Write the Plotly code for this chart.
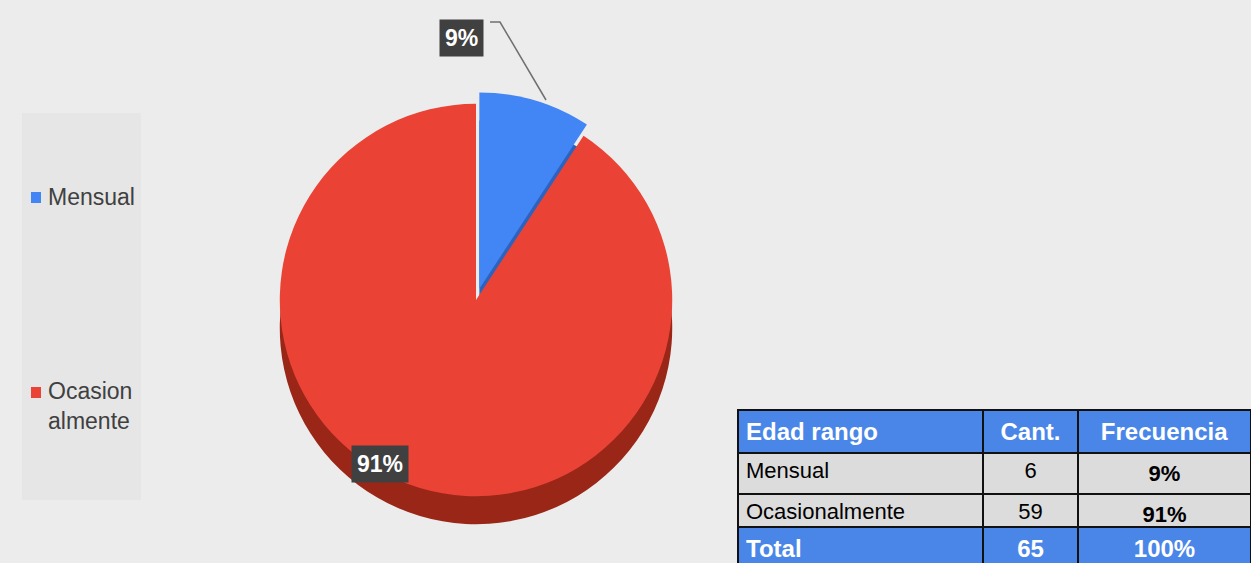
import plotly.graph_objects as go

categories = ["Mensual", "Ocasionalmente"]
legend_labels = ["Mensual", "Ocasion<br>almente"]
counts = [6, 59]
pct_labels = ["9%", "91%"]
total_label = "Total"
total_count = 65
total_pct = "100%"
header = ["Edad rango", "Cant.", "Frecuencia"]

W, H = 1251, 563
top_colors = ["#4285f4", "#ea4335"]
side_colors = ["#2d62bf", "#9a2618"]
FONT = "Liberation Sans, Arial"


def px(x0, y0, x1, y1):
    return dict(x=[x0 / W, x1 / W], y=[max(0, (H - y1) / H), min(1, (H - y0) / H)])


fig = go.Figure()
# side (thickness) of the pie
fig.add_trace(go.Pie(
    labels=categories, values=counts, sort=False, direction="clockwise",
    rotation=0, pull=[0.06, 0], marker=dict(colors=side_colors, line=dict(width=0)),
    textinfo="none", hoverinfo="skip", showlegend=False,
    domain=px(268, 120, 684, 536)))
# top face
fig.add_trace(go.Pie(
    labels=categories, values=counts, sort=False, direction="clockwise",
    rotation=0, pull=[0.06, 0], marker=dict(colors=top_colors, line=dict(width=0)),
    textinfo="none", showlegend=False,
    domain=px(268, 92, 684, 508)))

# table (header + body rows)
body_fill = "#dcdcdc"
blue = "#4a86e8"
colw = [245, 95, 173]
fig.add_trace(go.Table(
    domain=px(738, 410, 1251, 528),
    columnwidth=colw,
    header=dict(values=[f"<b>{h}</b>" for h in header],
                fill_color=blue, line=dict(color="#111", width=2),
                align=["left", "center", "center"],
                font=dict(family=FONT, size=24, color="white"),
                height=36),
    cells=dict(values=[categories,
                       [str(c) for c in counts],
                       [f"<b>{p}</b>" for p in pct_labels]],
               fill_color=body_fill,
               line=dict(color="#111", width=2),
               align=["left", "center", "center"],
               font=dict(family=FONT, size=22, color="black"),
               height=37),
))
# total row
fig.add_trace(go.Table(
    domain=px(738, 527, 1251, 563),
    columnwidth=colw,
    header=dict(values=[f"<b>{total_label}</b>", f"<b>{total_count}</b>", f"<b>{total_pct}</b>"],
                fill_color=blue, line=dict(color="#111", width=2),
                align=["left", "center", "center"],
                font=dict(family=FONT, size=24, color="white"),
                height=36),
))

shapes = [
    dict(type="rect", xref="paper", yref="paper", x0=22 / W, x1=141 / W,
         y0=(H - 500) / H, y1=(H - 113) / H, fillcolor="#e6e6e6", line=dict(width=0), layer="below"),
    dict(type="rect", xref="paper", yref="paper", x0=31 / W, x1=41 / W,
         y0=(H - 203) / H, y1=(H - 192) / H, fillcolor=top_colors[0], line=dict(width=0)),
    dict(type="rect", xref="paper", yref="paper", x0=31 / W, x1=41 / W,
         y0=(H - 398) / H, y1=(H - 387) / H, fillcolor=top_colors[1], line=dict(width=0)),
    dict(type="path", xref="paper", yref="paper",
         path=f"M {490 / W} {(H - 22) / H} L {500 / W} {(H - 22) / H} L {546 / W} {(H - 100) / H}",
         line=dict(color="#707070", width=1.5)),
]

annotations = [
    dict(text=legend_labels[0], x=46 / W, y=(H - 197) / H, xref="paper", yref="paper",
         xanchor="left", yanchor="middle", showarrow=False, align="left",
         font=dict(family=FONT, size=23, color="#404040")),
    dict(text=legend_labels[1], x=46 / W, y=(H - 406) / H, xref="paper", yref="paper",
         xanchor="left", yanchor="middle", showarrow=False, align="left",
         font=dict(family=FONT, size=23, color="#404040")),
    dict(text=f"<b>{pct_labels[0]}</b>", x=461 / W, y=(H - 38) / H, xref="paper", yref="paper",
         xanchor="center", yanchor="middle", showarrow=False, bgcolor="#404040",
         borderpad=5, font=dict(family=FONT, size=23, color="white")),
    dict(text=f"<b>{pct_labels[1]}</b>", x=380 / W, y=(H - 464) / H, xref="paper", yref="paper",
         xanchor="center", yanchor="middle", showarrow=False, bgcolor="#404040",
         borderpad=5, font=dict(family=FONT, size=23, color="white")),
]

fig.update_layout(
    width=W, height=H, margin=dict(l=0, r=0, t=0, b=0),
    paper_bgcolor="#ececec", plot_bgcolor="#ececec",
    shapes=shapes, annotations=annotations, showlegend=False,
)

fig.write_html("out.html", config={"displayModeBar": False},
               post_script="document.body.style.margin='0';")
